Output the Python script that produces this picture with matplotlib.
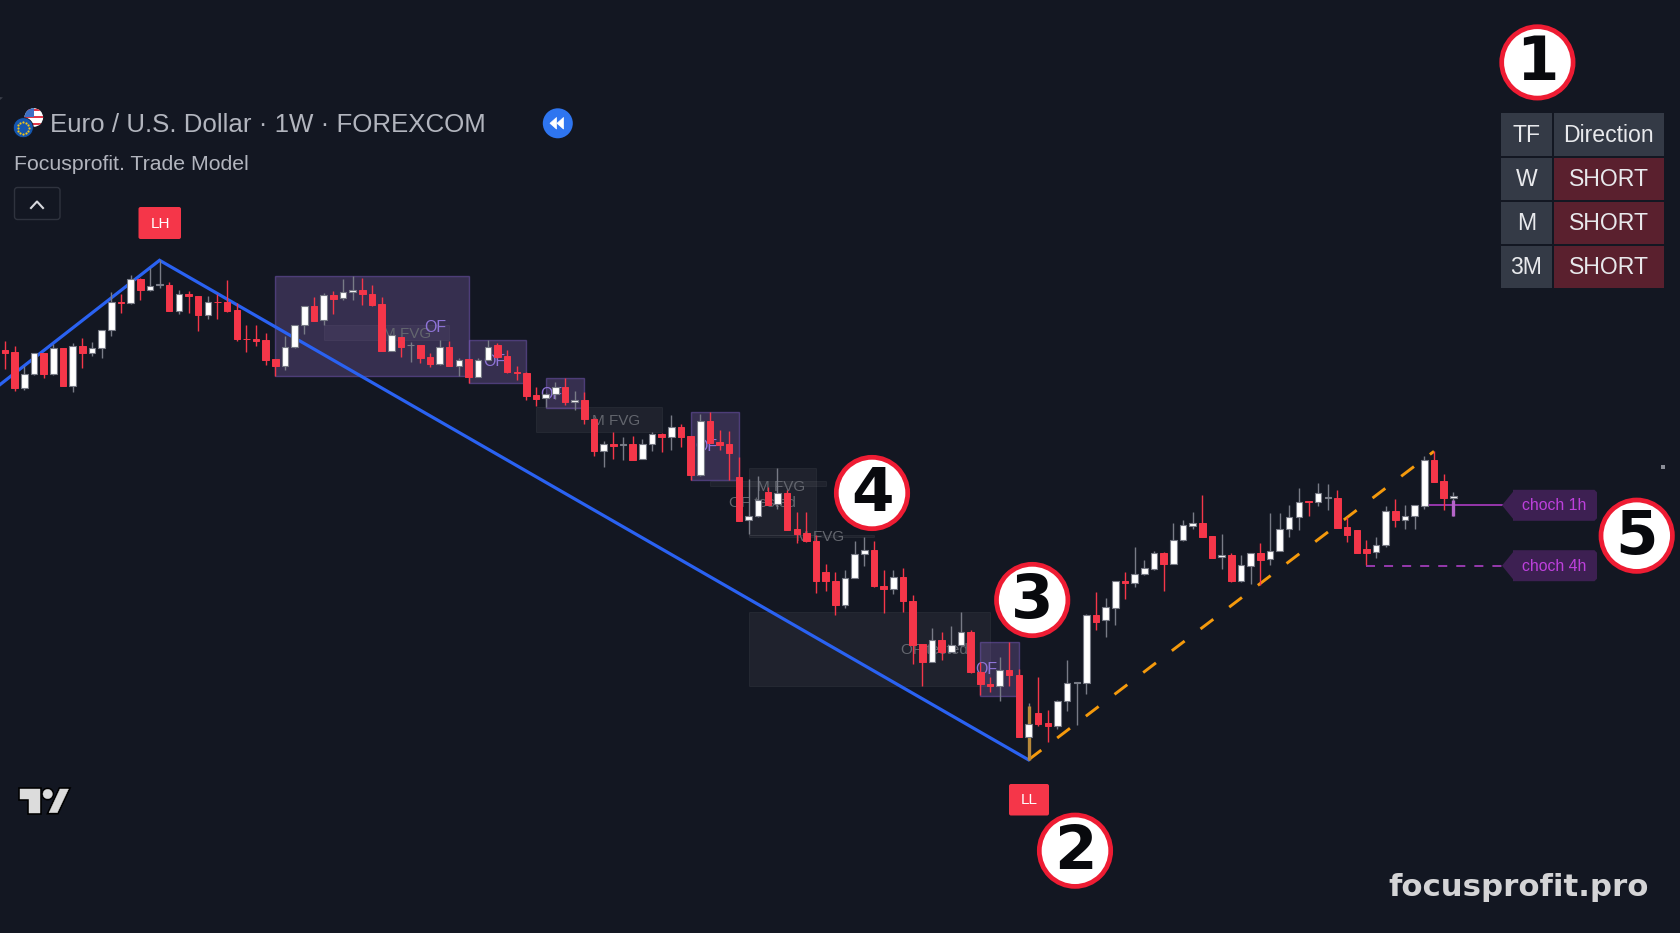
import matplotlib
matplotlib.use("Agg")
import matplotlib.pyplot as plt
from matplotlib.patches import Rectangle, Circle, FancyBboxPatch, Polygon
import numpy as np

plt.rcParams['font.family'] = ['Liberation Sans', 'DejaVu Sans']

# ---------- DATA (EUR/USD weekly) ----------
direction = list("RRWWRWRWRW" "WWRWRWWRWR" "RWRRRRRRRW" "WWRWRWWRRR" "WRWRRWRWRW"
                 "WRRRRRWWRW" "RRWRWRWWRW" "RRWRRRRWWR" "WRRRRRRWWW" "RRWRRRWRWW"
                 "RRRWRRWRRW" "WWWRWWRWWW" "RWWWRRWRWW" "RWWWWRWWRR" "RRWWRWWWRR" "W")

highs = [1.1795,1.177,1.167,1.17325,1.17325,1.17775,1.17575,1.17825,1.181,1.179,
 1.185,1.204,1.203,1.21225,1.21075,1.21575,1.21975,1.20875,1.205,1.2045,
 1.202,1.20175,1.203,1.20975,1.19825,1.18725,1.18725,1.18325,1.17025,1.182,
 1.1875,1.19675,1.20125,1.20325,1.20425,1.21025,1.21175,1.21075,1.2075,1.20125,
 1.18225,1.18125,1.17875,1.17725,1.17325,1.18,1.17925,1.17075,1.17025,1.17075,
 1.18,1.17825,1.175,1.16675,1.16375,1.15625,1.15325,1.15875,1.16075,1.15425,
 1.15375,1.14075,1.1295,1.134,1.13125,1.132,1.13025,1.134,1.13325,1.1425,
 1.138,1.132,1.14275,1.14375,1.135,1.1345,1.12125,1.11025,1.112,1.10625,
 1.11575,1.10475,1.09375,1.09375,1.0825,1.06775,1.06375,1.065,1.07925,1.08125,
 1.0795,1.065,1.06475,1.06575,1.0525,1.028,1.036,1.034,1.037,1.04375,
 1.035,1.01875,1.01125,1.02125,1.02875,1.0155,0.9985,1.01125,0.99475,1.0,
 1.01975,1.009,1.043,1.054,1.05075,1.05925,1.06375,1.07625,1.07,1.0745,
 1.07375,1.08825,1.09,1.09375,1.1025,1.082,1.08275,1.07325,1.07225,1.07325,
 1.07825,1.09325,1.09325,1.09725,1.10575,1.09925,1.10825,1.108,1.10475,1.09125,
 1.08475,1.08,1.08125,1.097,1.1005,1.0975,1.0975,1.12175,1.12425,1.11275,1.10375]

body_hi = [1.17475,1.17375,1.16275,1.17325,1.17325,1.17575,1.17575,1.17675,1.17675,1.17575,
 1.185,1.19875,1.199,1.2105,1.2105,1.207,1.20775,1.2075,1.20275,1.203,
 1.202,1.19875,1.199,1.199,1.19475,1.1805,1.1805,1.17975,1.17025,1.17625,
 1.1875,1.19675,1.19675,1.20225,1.20225,1.20375,1.20475,1.205,1.203,1.19775,
 1.18225,1.18125,1.1775,1.17725,1.17125,1.17625,1.17625,1.17,1.17025,1.16975,
 1.17625,1.17725,1.17175,1.16375,1.1635,1.15225,1.15275,1.15625,1.15625,1.14975,
 1.14975,1.1405,1.12775,1.12775,1.12775,1.12775,1.128,1.13275,1.133,1.13625,
 1.13625,1.13175,1.1395,1.1395,1.12875,1.12775,1.11125,1.09175,1.09975,1.104,
 1.10325,1.1035,1.08525,1.08325,1.07925,1.06375,1.0595,1.061,1.07275,1.07475,
 1.07475,1.057,1.0615,1.0615,1.04925,1.02775,1.02975,1.02975,1.02725,1.03375,
 1.03375,1.01375,1.008,1.015,1.015,1.0125,0.98775,0.9935,0.9885,0.99925,
 1.00825,1.00875,1.04225,1.04225,1.04625,1.05925,1.05925,1.063,1.06575,1.07325,
 1.07325,1.08,1.08725,1.08825,1.08825,1.08175,1.07225,1.07225,1.06725,1.07325,
 1.07325,1.07425,1.0855,1.09125,1.09875,1.09925,1.1035,1.10125,1.101,1.08625,
 1.08475,1.0755,1.07725,1.09425,1.09425,1.09175,1.09725,1.11975,1.12,1.10925,1.102]

body_lo = [1.17325,1.15575,1.15575,1.16275,1.16275,1.16275,1.15675,1.15675,1.1735,1.1735,
 1.17575,1.18475,1.19825,1.19825,1.20475,1.20475,1.20725,1.1945,1.1945,1.20175,
 1.1925,1.1925,1.19875,1.1945,1.18025,1.18025,1.1795,1.16975,1.16675,1.16675,
 1.17625,1.18725,1.18925,1.19,1.2005,1.20075,1.20375,1.20275,1.1975,1.1745,
 1.1745,1.1765,1.17725,1.17075,1.16775,1.16775,1.16675,1.16675,1.16125,1.16125,
 1.16975,1.17125,1.16375,1.16325,1.152,1.1505,1.15075,1.15275,1.14875,1.14875,
 1.14025,1.12425,1.12425,1.12675,1.12725,1.12,1.12025,1.128,1.13125,1.1315,
 1.1315,1.1125,1.1125,1.1285,1.1275,1.12325,1.0895,1.08975,1.09175,1.0975,
 1.09775,1.085,1.08275,1.07925,1.05925,1.05925,1.0475,1.0475,1.06075,1.07275,
 1.05675,1.05525,1.05525,1.04925,1.02725,1.01875,1.01875,1.024,1.024,1.02725,
 1.01375,1.00775,1.00675,1.00675,1.01225,0.9815,0.9815,0.988,0.98675,0.98675,
 0.99925,1.00825,1.00825,1.03875,1.03975,1.046,1.0585,1.05825,1.06275,1.0655,
 1.068,1.068,1.07975,1.087,1.08125,1.071,1.07125,1.05925,1.05925,1.067,
 1.07,1.07025,1.07425,1.0855,1.09125,1.09875,1.09875,1.10075,1.08575,1.08225,
 1.07325,1.0735,1.07375,1.07725,1.09,1.09,1.09175,1.09675,1.109,1.10075,1.10075]

lows = [1.16525,1.15425,1.15475,1.16225,1.16075,1.16225,1.15675,1.15375,1.16575,1.172,
 1.171,1.18175,1.19325,1.198,1.2,1.20425,1.20575,1.19425,1.193,1.19325,
 1.18425,1.19025,1.19025,1.194,1.17925,1.174,1.177,1.16725,1.162,1.165,
 1.176,1.183,1.18925,1.18725,1.19275,1.19975,1.2,1.1975,1.19675,1.1745,
 1.17425,1.17125,1.16875,1.16825,1.16625,1.16725,1.16675,1.162,1.15825,1.16125,
 1.16975,1.17075,1.16325,1.16,1.14975,1.14675,1.14625,1.15025,1.14725,1.145,
 1.138,1.122,1.11625,1.1205,1.12,1.11975,1.12025,1.12425,1.12375,1.125,
 1.12625,1.11,1.112,1.12825,1.12475,1.10975,1.0895,1.08275,1.09125,1.0975,
 1.09525,1.085,1.07825,1.07875,1.05325,1.05425,1.04225,1.046,1.06075,1.067,
 1.05625,1.04325,1.053,1.04375,1.01775,1.007,1.01875,1.01975,1.024,1.027,
 1.0135,1.00225,1.00375,0.99925,1.00675,0.98125,0.97,0.987,0.97875,0.9855,
 0.99425,0.9875,1.003,1.035,1.03125,1.03725,1.0505,1.05625,1.06225,1.06475,
 1.05425,1.068,1.0795,1.08525,1.08125,1.07075,1.06525,1.05875,1.05875,1.05775,
 1.0575,1.0675,1.07425,1.08125,1.085,1.092,1.09675,1.09475,1.08575,1.07875,
 1.07325,1.06725,1.07075,1.07625,1.08625,1.08525,1.08525,1.09525,1.109,1.095,1.092]

# market-structure swing lines (bar index, price)
bear_leg_idx = [-0.55, 16, 106]
bear_leg_px = [1.1575, 1.21975, 0.97]
bull_leg_idx = [106, 148]
bull_leg_px = [0.97, 1.12425]

# zones: (first bar, last bar, low, high)
of_zones = [(28, 48, 1.1617, 1.2117), (48, 54, 1.1582, 1.18), (56, 60, 1.1459, 1.1609),
            (71, 76, 1.1099, 1.1437), (101, 105, 1.002, 1.0289)]
fvg_zones = [(33, 46, 1.18, 1.1872), (55, 68, 1.134, 1.1462), (73, 85, 1.1069, 1.1094),
             (77, 84, 1.0822, 1.1159), (77, 90, 1.0815, 1.0825), (77, 102, 1.0067, 1.0439)]

of_labels = [(44.6, 1.1861, "OF"), (50.7, 1.1691, "OF"), (56.6, 1.1527, "OF"),
             (72.6, 1.1266, "OF"), (101.6, 1.0152, "OF")]
grey_labels = [(41.6, 1.1831, "M FVG"), (63.3, 1.1394, "M FVG"), (80.4, 1.1066, "M FVG"),
               (78.4, 1.0986, "OF tested"), (84.4, 1.0816, "M FVG"), (96.3, 1.0249, "OF tested")]

choch_1h = (147.3, 1.0975)
choch_4h = (141, 1.0668)
table_header = ["TF", "Direction"]
table_tf = ["W", "M", "3M"]
table_dir = ["SHORT", "SHORT", "SHORT"]

# ---------- STYLE ----------
BG = "#131722"
RED = "#f53649"
GREY = "#787b86"
BLUE = "#2a62f2"
ORANGE = "#f59a0c"
MAGENTA = "#b93fd0"
TEXT = "#b2b5be"

fig = plt.figure(figsize=(16.8, 9.33), dpi=100, facecolor=BG)
ax = fig.add_axes([0, 0, 1, 1], facecolor=BG)
ax.set_xlim(-0.525, 173.475)
ax.set_ylim(0.8834, 1.3499)
ax.axis("off")

# zones
for x0, x1, lo_, hi_ in fvg_zones:
    ax.add_patch(Rectangle((x0, lo_), x1 - x0, hi_ - lo_, facecolor=(1, 1, 1, 0.05),
                           edgecolor=(1, 1, 1, 0.05), lw=0.8, zorder=1))
for x0, x1, lo_, hi_ in of_zones:
    ax.add_patch(Rectangle((x0, lo_), x1 - x0, hi_ - lo_, facecolor=(0.50, 0.38, 0.68, 0.33),
                           edgecolor=(0.50, 0.37, 0.78, 0.45), lw=1.0, zorder=1.1))
for x, y, s in grey_labels:
    ax.text(x, y, s, color="#63666e", fontsize=11.0, ha="center", va="center", zorder=1.5)
for x, y, s in of_labels:
    ax.text(x, y, s, color="#8f74d8", fontsize=11.5, ha="center", va="center", zorder=1.5)

# swing lines
ax.plot(bear_leg_idx, bear_leg_px, color=BLUE, lw=2.3, zorder=2, solid_joinstyle="miter")
ax.plot(bull_leg_idx, bull_leg_px, color=ORANGE, lw=2.1, zorder=2,
        linestyle=(0, (5.5, 6.85)), dash_capstyle="butt")

# candles
idx = np.arange(len(highs))
is_red = np.array([d == "R" for d in direction])
hi = np.array(highs); lo = np.array(lows); bh = np.array(body_hi); bl = np.array(body_lo)
ax.vlines(idx[is_red], lo[is_red], hi[is_red], color=RED, lw=1.0, zorder=3)
ax.vlines(idx[~is_red], lo[~is_red], hi[~is_red], color=GREY, lw=1.0, zorder=3)
# highlighted wicks on the swing-low bar and the live bar
ax.vlines([106], [0.97], [0.99675], color="#b8893a", lw=2.4, zorder=3.1)
ax.vlines([150], [1.092], [1.1], color="#b565c9", lw=2.4, zorder=3.1)
ax.bar(idx[is_red], bh[is_red] - bl[is_red], bottom=bl[is_red], width=0.68,
       color=RED, edgecolor=RED, lw=0.7, zorder=4)
ax.bar(idx[~is_red], bh[~is_red] - bl[~is_red], bottom=bl[~is_red], width=0.68,
       color="#ffffff", edgecolor=GREY, lw=0.8, zorder=4)

# choch lines
ax.plot([choch_1h[0], 155.1], [choch_1h[1]] * 2, color=MAGENTA, lw=1.1, zorder=2.5)
ax.plot([choch_4h[0], 155.1], [choch_4h[1]] * 2, color="#a03cb8", lw=1.3, zorder=2.5,
        linestyle=(0, (5, 5)), dash_capstyle="butt")

# ---------- overlay in screen pixels for chart furniture ----------
ov = fig.add_axes([0, 0, 1, 1], facecolor="none")
ov.set_xlim(0, 1680); ov.set_ylim(933, 0); ov.axis("off")
ov.set_zorder(5)


def box(x0, y0, x1, y1, fc, ec="none", lw=0, r=2.0, z=6):
    ov.add_patch(FancyBboxPatch((x0 + r, y0 + r), x1 - x0 - 2 * r, y1 - y0 - 2 * r,
                                boxstyle=f"round,pad={r},rounding_size={r}", fc=fc, ec=ec, lw=lw, zorder=z))


# legend block
ov.text(49.5, 125.3, "Euro / U.S. Dollar · 1W · FOREXCOM", color=TEXT, fontsize=18.6,
        va="center", ha="left", zorder=7)
ov.text(14, 164.5, "Focusprofit. Trade Model", color=TEXT, fontsize=15.3, va="center", ha="left", zorder=7)
box(14.5, 187.5, 60, 219.5, "none", ec="#2f333e", lw=1.0, r=3)
ov.plot([31, 37, 43], [208, 201.5, 208], color="#d8d9de", lw=1.5, zorder=7)
ov.add_patch(Polygon([(0, 97), (3, 97.5), (0, 100)], fc="#3a3e49", ec="none", zorder=6))

# flags
eu = Circle((23.3, 127.7), 10, fc="#1557b0", ec=BG, lw=0.6, zorder=7.2)
us = Circle((33.8, 117.5), 9.3, fc="#ffffff", ec="none", zorder=7)
ov.add_patch(us)
for k, yy in enumerate(np.arange(109, 127, 3.4)):
    if k % 2 == 0:
        st = Rectangle((24, yy), 20, 1.9, fc="#e0394a", ec="none", zorder=7.05)
        ov.add_patch(st); st.set_clip_path(us)
cant = Rectangle((24, 108), 10, 9, fc="#3d6fc4", ec="none", zorder=7.1)
ov.add_patch(cant); cant.set_clip_path(us)
ov.add_patch(eu)
th = np.linspace(0, 2 * np.pi, 12, endpoint=False)
ov.scatter(23.3 + 5.8 * np.cos(th), 127.7 + 5.8 * np.sin(th), s=2.5, c="#f5c518", lw=0, zorder=7.3)

# replay button
ov.add_patch(Circle((557.8, 123.3), 15, fc="#2e75f0", ec="none", zorder=7))
for dx in (0, 7):
    ov.add_patch(Polygon([(550 + dx, 123.3), (556.5 + dx, 117.5), (556.5 + dx, 129)], fc="white", ec="white",
                         lw=0.5, joinstyle="round", zorder=7.1))

# LH / LL tags
box(138.5, 207, 181, 239, RED, r=2)
ov.text(160.2, 223.6, "LH", color="white", fontsize=11, ha="center", va="center", zorder=7)
box(1009, 784, 1049, 815.5, RED, r=2)
ov.text(1029, 799.8, "LL", color="white", fontsize=11, ha="center", va="center", zorder=7)

# table
xc = [(1500.7, 1552), (1554, 1663.7)]
yr = [(113.3, 155.7), (158, 200), (201.7, 243.7), (246, 287.7)]
HEAD = "#343a46"
SHORT = "#5a202e"
TY = 1.0
ov.add_patch(Rectangle((xc[0][0], yr[0][0]), xc[0][1] - xc[0][0], yr[0][1] - yr[0][0], fc=HEAD, ec="none", zorder=6))
ov.add_patch(Rectangle((xc[1][0], yr[0][0]), xc[1][1] - xc[1][0], yr[0][1] - yr[0][0], fc=HEAD, ec="none", zorder=6))
ov.text(sum(xc[0]) / 2, sum(yr[0]) / 2 + TY, table_header[0], color="#e8e9ec", fontsize=16.6, ha="center", va="center", zorder=7)
ov.text(sum(xc[1]) / 2 - 0.5, sum(yr[0]) / 2 + TY, table_header[1], color="#e8e9ec", fontsize=16.6, ha="center", va="center", zorder=7)
for r, (tf, d) in enumerate(zip(table_tf, table_dir), start=1):
    ov.add_patch(Rectangle((xc[0][0], yr[r][0]), xc[0][1] - xc[0][0], yr[r][1] - yr[r][0], fc=HEAD, ec="none", zorder=6))
    ov.add_patch(Rectangle((xc[1][0], yr[r][0]), xc[1][1] - xc[1][0], yr[r][1] - yr[r][0], fc=SHORT, ec="none", zorder=6))
    ov.text(sum(xc[0]) / 2, sum(yr[r]) / 2 + TY, tf, color="#e8e9ec", fontsize=16.6, ha="center", va="center", zorder=7)
    ov.text(sum(xc[1]) / 2, sum(yr[r]) / 2 + TY, d, color="#e8e9ec", fontsize=16.6, ha="center", va="center", zorder=7)

# choch tags
for (yc, label) in [(505.3, "choch 1h"), (565.7, "choch 4h")]:
    top, bot = yc - 15.5, yc + 15.5
    ov.add_patch(Polygon([(1502, yc), (1513, top + 2), (1513, top), (1594.5, top), (1597, top + 2.5), (1597, bot - 2.5),
                          (1594.5, bot), (1513, bot), (1513, bot - 2)],
                         fc="#3d2052", ec="none", zorder=6))
    ov.text(1553.8, yc + 0.5, label, color="#bd40dc", fontsize=11.4, ha="center", va="center", zorder=7)

# small mark at the right
ov.add_patch(Rectangle((1661.3, 464.8), 4, 4, fc="#8b8e98", ec="none", zorder=6))

# numbered badges
for (cx, cy, n) in [(1537.4, 62.4, "1"), (1075, 850.7, "2"), (1032.2, 600, "3"), (872, 493, "4"), (1636.7, 535.7, "5")]:
    ov.add_patch(Circle((cx, cy), 35.7, fc="white", ec="#ee1c33", lw=3.4, zorder=8))
    ov.text(cx, cy + 1.5, n, color="#08090d", fontsize=44, fontweight="bold", family="DejaVu Sans",
            ha="center", va="center", zorder=9)

# watermark
ov.text(1519, 888, "focusprofit.pro", color="#d4d4d6", fontsize=22.15, fontweight="bold", family="DejaVu Sans",
        ha="center", va="center", zorder=7)

# TradingView mark
LOGO = "#dcdcdc"
T_PTS = [(19.5, 789), (39.5, 789), (39.5, 812.7), (29.3, 812.7), (29.3, 799), (19.5, 799)]
S_PTS = [(60, 789), (68.5, 789), (57.3, 812.7), (49, 812.7)]
for pts in (T_PTS, S_PTS):
    ov.add_patch(Polygon(pts, fc="#000000", ec="#000000", lw=2.6, zorder=7))
ov.add_patch(Circle((47.7, 794), 4.7, fc="#000000", ec="#000000", lw=2.6, zorder=7))
for pts in (T_PTS, S_PTS):
    ov.add_patch(Polygon(pts, fc=LOGO, ec=LOGO, lw=0.3, zorder=7.1))
ov.add_patch(Circle((47.7, 794), 4.7, fc=LOGO, ec=LOGO, lw=0.3, zorder=7.1))

fig.savefig("out.png", dpi=100, facecolor=BG)
